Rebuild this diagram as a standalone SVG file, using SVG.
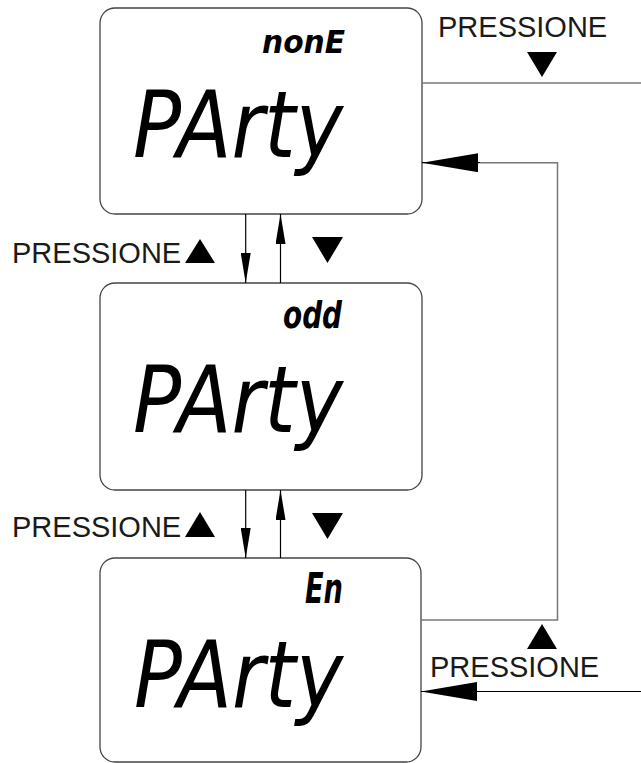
<svg xmlns="http://www.w3.org/2000/svg" width="641" height="763" viewBox="0 0 641 763">
  <style>
    .box { fill: #ffffff; stroke: #444444; stroke-width: 1.3; }
    .lcd { font-family: "DejaVu Sans Condensed", "DejaVu Sans", sans-serif; font-style: italic; fill: #000000; }
    .small { font-weight: bold; }
    .label { font-family: "Liberation Sans", Arial, sans-serif; font-size: 29px; fill: #1a1a1a; }
    .link { fill: none; stroke: #000000; stroke-width: 1.2; }
    .grey { fill: none; stroke: #777777; stroke-width: 1.5; }
    .tri { fill: #000000; }
  </style>
  <defs>
    <marker id="narrow" markerUnits="userSpaceOnUse" markerWidth="30" markerHeight="10" refX="30" refY="5" orient="auto">
      <path d="M0,0 L30,5 L0,10 Z" fill="#000000"/>
    </marker>
    <marker id="wide" markerUnits="userSpaceOnUse" markerWidth="56" markerHeight="19" refX="56" refY="9.5" orient="auto">
      <path d="M0,0 L56,9.5 L0,19 Z" fill="#000000"/>
    </marker>
  </defs>

  <!-- display: parity none -->
  <g id="display-none">
    <rect class="box" x="100" y="8" width="322" height="206" rx="15" ry="15"/>
    <text class="lcd small" x="262" y="53" font-size="32" textLength="83" lengthAdjust="spacingAndGlyphs">nonE</text>
    <text class="lcd" x="133" y="157" font-size="93" textLength="210" lengthAdjust="spacingAndGlyphs">PArty</text>
  </g>

  <!-- display: parity odd -->
  <g id="display-odd">
    <rect class="box" x="100" y="283" width="322" height="207" rx="15" ry="15"/>
    <text class="lcd small" x="283" y="328" font-size="38" textLength="59" lengthAdjust="spacingAndGlyphs">odd</text>
    <text class="lcd" x="133" y="432" font-size="93" textLength="210" lengthAdjust="spacingAndGlyphs">PArty</text>
  </g>

  <!-- display: parity even -->
  <g id="display-even">
    <rect class="box" x="100" y="558" width="321" height="204" rx="15" ry="15"/>
    <text class="lcd small" x="305" y="603" font-size="42" textLength="38" lengthAdjust="spacingAndGlyphs">En</text>
    <text class="lcd" x="134" y="707" font-size="93" textLength="209" lengthAdjust="spacingAndGlyphs">PArty</text>
  </g>

  <!-- key labels -->
  <g id="labels">
    <text class="label" x="438" y="37">PRESSIONE</text>
    <polygon class="tri" points="527,52 557,52 542,77"/>

    <text class="label" x="12" y="263">PRESSIONE</text>
    <polygon class="tri" points="185,263 215,263 200,239"/>
    <polygon class="tri" points="312,237 343,237 327.5,263"/>

    <text class="label" x="12" y="537">PRESSIONE</text>
    <polygon class="tri" points="185,537 215,537 200,512"/>
    <polygon class="tri" points="312,513 343,513 327.5,539"/>

    <polygon class="tri" points="527,649 557,649 542,624"/>
    <text class="label" x="430" y="677">PRESSIONE</text>
  </g>

  <!-- connectors -->
  <g id="connectors">
    <line class="link" x1="245.7" y1="214" x2="245.7" y2="283" marker-end="url(#narrow)"/>
    <line class="link" x1="280.5" y1="283" x2="280.5" y2="214" marker-end="url(#narrow)"/>
    <line class="link" x1="245.7" y1="490" x2="245.7" y2="558" marker-end="url(#narrow)"/>
    <line class="link" x1="280.5" y1="558" x2="280.5" y2="490" marker-end="url(#narrow)"/>

    <line class="grey" x1="422" y1="83" x2="641" y2="83"/>
    <polyline class="grey" points="421,620 557.5,620 557.5,162.7 480,162.7"/>
    <line class="link" x1="480" y1="162.7" x2="422" y2="162.7" marker-end="url(#wide)"/>
    <line class="link" x1="641" y1="691.5" x2="421" y2="691.5" marker-end="url(#wide)"/>
  </g>
</svg>
